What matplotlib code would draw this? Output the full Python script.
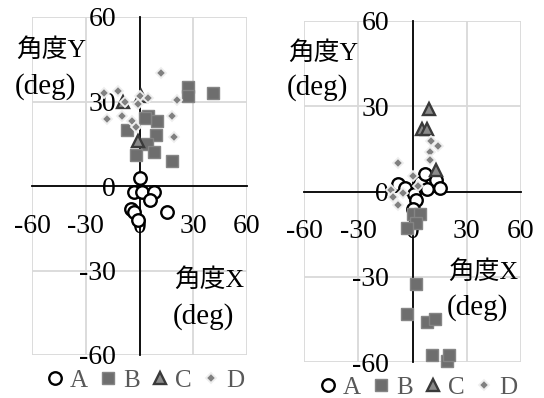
import matplotlib
matplotlib.use("Agg")
import matplotlib.pyplot as plt
from matplotlib.lines import Line2D

plt.rcParams['font.family'] = ['Liberation Serif', 'Noto Sans CJK JP']

# ---- data: left panel ----
a_left_x = [0.5, -3.3, 1.6, 8, 6, -4.5, -3.3, -1, 15.6]
a_left_y = [3, -2, -2.2, -2, -5, -8, -9.3, -12, -9.3]
b_left_x = [27, 27, 41, 5, 10, 9, -7, 4, 8, -2, 18, 3]
b_left_y = [35, 32, 33, 25, 23, 18, 20, 15, 12, 11, 9, 24]
c_left_x = [-9, 1, -1]
c_left_y = [30, 32, 16]
d_left_x = [12, -20, -12, 0, 4.5, 20.7, -1, -18, -9.5, -4, -2, 18.4, 19, -8]
d_left_y = [40, 33, 33.6, 32, 31.4, 30.4, 29, 23.7, 24.7, 23, 21, 25, 17.3, 29.7]

# ---- data: right panel ----
a_right_x = [-8, -4, 1, 4, 7, 8, 13, 15, 2, 0]
a_right_y = [2.5, 1.4, -1, 3.5, 6, 1, 4, 1.4, -3, -6]
b_right_x = [0, 4, 2, -3, 2, -3, 8, 12.5, 11, 19, 20]
b_right_y = [-8, -8, -11, -13, -32.5, -43, -46, -45, -57.5, -59.5, -57.5]
c_right_x = [9, 5.5, 8, 13]
c_right_y = [29, 22, 22, 7.4]
d_right_x = [10, 14, 9.5, 9.5, -8, 0, -12, -5.5, -11, -8, 3]
d_right_y = [17.7, 16, 14, 11, 10, 5.6, 0.7, -0.4, -2, -4.6, 2]

series_names = ['A', 'B', 'C', 'D']
ticks = [-60, -30, 0, 30, 60]
tick_labels = ['-60', '-30', '0', '30', '60']

W, H = 544, 398
fig = plt.figure(figsize=(W / 100, H / 100), dpi=100)

styles = {
    'A': dict(marker='o', ms=9.0, mfc='white', mec='black', mew=1.7),
    'B': dict(marker='s', ms=9.0, mfc='#6e6e6e', mec='#858585', mew=1.0),
    'C': dict(marker='^', ms=9.0, mfc='#8a8a8a', mec='#3a3a3a', mew=1.7),
    'D': dict(marker='D', ms=5.5, mfc='#808080', mec='#eeeeee', mew=1.3),
}


def make_panel(rect_px, data):
    l, t, r, b = rect_px
    ax = fig.add_axes([l / W, 1 - b / H, (r - l) / W, (b - t) / H])
    ax.set_xlim(-60, 60)
    ax.set_ylim(-60, 60)
    ax.set_xticks(ticks)
    ax.set_yticks(ticks)
    ax.set_xticklabels(tick_labels)
    ax.set_yticklabels(tick_labels)
    ax.grid(True, color='#d9d9d9', lw=1.3, zorder=0)
    ax.set_axisbelow(True)
    for s in ('top', 'right'):
        ax.spines[s].set_visible(False)
    for s in ('left', 'bottom'):
        ax.spines[s].set_position('zero')
        ax.spines[s].set_color('black')
        ax.spines[s].set_linewidth(1.3)
        ax.spines[s].set_zorder(2)
    ax.tick_params(axis='y', length=0, pad=17, labelsize=20)
    ax.tick_params(axis='x', length=0, pad=20, labelsize=20)
    for name, (xs, ys) in zip(series_names, data):
        ax.plot(xs, ys, ls='none', zorder=3, clip_on=False, **styles[name])
    handles = [Line2D([], [], ls='none', **styles[n]) for n in series_names]
    leg = ax.legend(handles, series_names, loc='upper center',
                    bbox_to_anchor=(0.53, -0.012), ncol=4, frameon=False,
                    handlelength=0.6, handletextpad=0.3, columnspacing=0.5,
                    fontsize=18, borderaxespad=0)
    for txt in leg.get_texts():
        txt.set_color('#595959')
    return ax


ax1 = make_panel((32, 17, 247, 355),
                 [(a_left_x, a_left_y), (b_left_x, b_left_y),
                  (c_left_x, c_left_y), (d_left_x, d_left_y)])
ax2 = make_panel((304, 21, 521, 362),
                 [(a_right_x, a_right_y), (b_right_x, b_right_y),
                  (c_right_x, c_right_y), (d_right_x, d_right_y)])


def label(x_px, y_px, s, size=18.5):
    fig.text(x_px / W, 1 - y_px / H, s, fontsize=size, ha='left', va='center')


label(16, 50, '角度Y')
label(15, 87, '(deg)', 21)
label(174, 280, '角度X')
label(173, 317, '(deg)', 21)
label(288, 53, '角度Y')
label(287, 88, '(deg)', 21)
label(448, 272, '角度X')
label(447, 308, '(deg)', 21)

fig.savefig('out.png', dpi=100)
